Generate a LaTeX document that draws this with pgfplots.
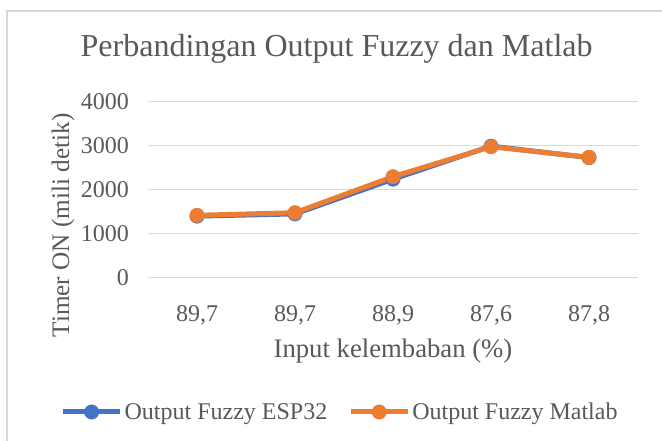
\documentclass[border=0pt]{standalone}
\usepackage{pgfplots}
\pgfplotsset{compat=1.18}
\usepackage{fontspec}
\setmainfont{Liberation Serif}
\definecolor{txt}{HTML}{595959}
\definecolor{grd}{HTML}{D9D9D9}
\definecolor{esp}{HTML}{4472C4}
\definecolor{mat}{HTML}{ED7D31}
\begin{document}
\begin{tikzpicture}
\useasboundingbox (0,0) rectangle (662bp,441bp);
\fill[white] (0,0) rectangle (662bp,441bp);
\draw[grd, line width=1.5bp] (7bp,0) -- (7bp,430bp) -- (662bp,430bp);
\begin{axis}[
  at={(148bp,163.3bp)}, anchor=south west,
  scale only axis, width=490bp, height=176bp,
  xmin=-0.5, xmax=4.5, ymin=0, ymax=4000,
  xtick={0,1,2,3,4},
  xticklabels={{89,7},{89,7},{88,9},{87,6},{87,8}},
  ytick={0,1000,2000,3000,4000},
  axis line style={draw=none},
  major tick length=0pt,
  ymajorgrids, grid style={grd, line width=1.3bp},
  tick label style={font=\fontsize{24bp}{28bp}\selectfont, text=txt},
  /pgf/number format/assume math mode=true,
  /pgf/number format/1000 sep={},
  scaled y ticks=false,
  y tick label style={anchor=east, inner sep=0pt, xshift=-19bp},
  x tick label style={anchor=base, inner sep=0pt, yshift=-43.3bp},
  title={Perbandingan Output Fuzzy dan Matlab},
  title style={at={(axis description cs:0.385,1.2256)}, anchor=base, inner sep=0pt, font=\fontsize{32bp}{38bp}\selectfont, text=txt},
  xlabel={Input kelembaban (\%)},
  xlabel style={at={(axis description cs:0.5,-0.4545)}, anchor=base, inner sep=0pt, font=\fontsize{26.7bp}{32bp}\selectfont, text=txt},
  ylabel={Timer ON (mili detik)},
  ylabel style={at={(axis description cs:-0.1612,0.2966)}, anchor=base, inner sep=0pt, font=\fontsize{25.2bp}{30bp}\selectfont, text=txt},
  legend columns=2,
  legend style={at={(axis description cs:0.392,-0.763)}, anchor=center, draw=none, fill=none,
    font=\fontsize{24bp}{28bp}\selectfont, text=txt,
    /tikz/every even column/.append style={column sep=19bp}},
  legend image code/.code={\draw[#1, mark repeat=2, mark phase=2] plot coordinates {(0bp,0bp) (28.5bp,0bp) (57bp,0bp)};},
  line join=round,
]
\addplot[color=esp, line width=5bp, mark=*, mark size=7.2bp, mark options={solid, fill=esp, line width=0.5bp}]
  coordinates {(0,1400) (1,1450) (2,2240) (3,2990) (4,2730)};
\addlegendentry{Output Fuzzy ESP32}
\addplot[color=mat, line width=5bp, mark=*, mark size=7.2bp, mark options={solid, fill=mat, line width=0.5bp}]
  coordinates {(0,1418) (1,1477) (2,2295) (3,2977) (4,2736)};
\addlegendentry{Output Fuzzy Matlab}
\end{axis}
\end{tikzpicture}
\end{document}
